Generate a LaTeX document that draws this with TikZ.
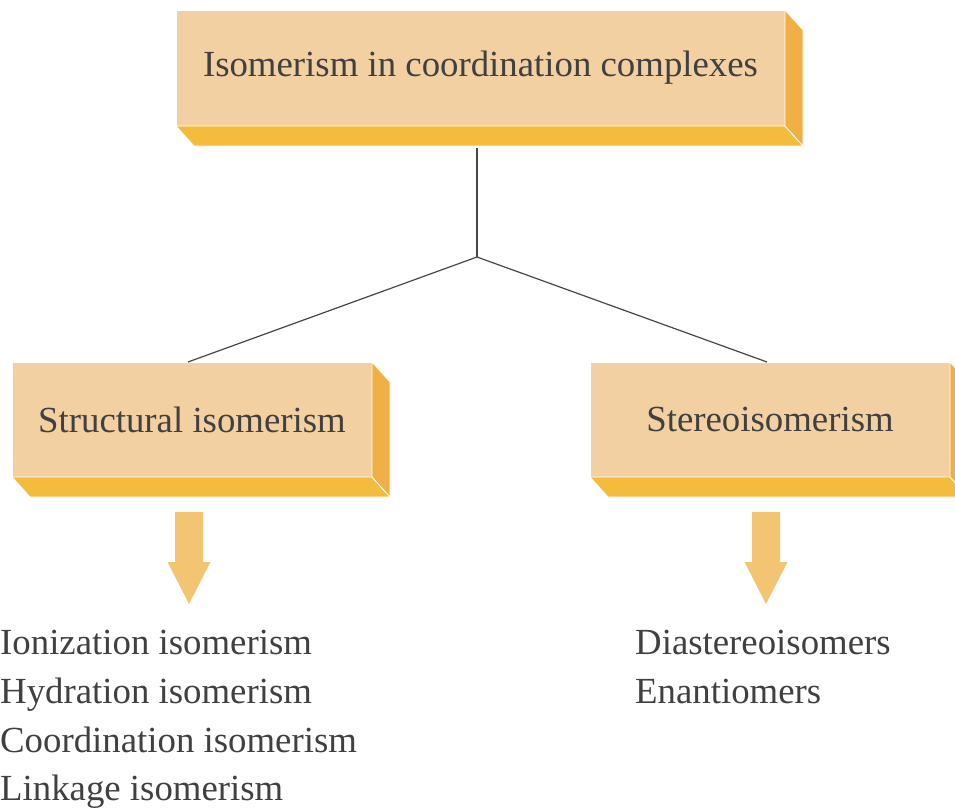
\documentclass[tikz,border=0pt]{standalone}
\usepackage{fontspec}
\setmainfont{Liberation Serif}
\usetikzlibrary{calc}
\definecolor{facefront}{RGB}{242,208,162}
\definecolor{facebottom}{RGB}{244,188,60}
\definecolor{faceside}{RGB}{240,176,70}
\definecolor{arrowfill}{RGB}{243,197,114}
\definecolor{textgrey}{RGB}{64,64,64}
\tikzset{isobox/.style={draw=white, line width=1pt, fill=facefront, outer sep=0pt, inner sep=0pt, text=textgrey, font=\fontsize{36.8}{44}\selectfont}}
\tikzset{bottomface/.style={fill=facebottom, draw=white, line width=0.8pt}}
\tikzset{sideface/.style={fill=faceside, draw=white, line width=0.8pt}}
\tikzset{link/.style={draw={rgb,255:red,70;green,70;blue,70}, line width=1.2pt}}
\tikzset{listitem/.style={anchor=base west, inner sep=0pt, text=textgrey, font=\fontsize{36.8}{44}\selectfont}}

\begin{document}
\begin{tikzpicture}[x=1pt, y=-1pt]

\useasboundingbox (0,0) rectangle (955,809);
\clip (0,0) rectangle (955,809);

% boxes
\node[isobox, minimum width=609pt, minimum height=116pt] (top) at (480.5, 68) {Isomerism in coordination complexes};
\node[isobox, minimum width=360pt, minimum height=115pt] (struct) at (192, 419.5) {Structural isomerism};
\node[isobox, minimum width=360pt, minimum height=115pt] (stereo) at (770, 419.5) {Stereoisomerism};

\foreach \b in {top, struct, stereo} {
  \path[bottomface] (\b.south west) -- (\b.south east) -- ++(18,20) -- ($(\b.south west)+(18,-20pt)$) -- cycle;
  \path[sideface] (\b.north east) -- ++(18,20) -- ($(\b.south east)+(18,-20pt)$) -- (\b.south east) -- cycle;
}

% tree lines
\coordinate (fork) at (477, 257);
\draw[link] ([xshift=-3.5pt]top.south) ++(0,22) -- (fork);
\draw[link] (fork) -- ([xshift=-4pt]struct.north);
\draw[link] (fork) -- ([xshift=-3pt]stereo.north);

% down arrows
\foreach \x in {189, 766} {
  \fill[arrowfill] ({\x-14},512) -- ({\x+14},512) -- ({\x+14},562) -- ({\x+21.5},562)
    -- (\x,604) -- ({\x-21.5},562) -- ({\x-14},562) -- cycle;
}

% lists
\node[listitem] (ion) at (0, 654) {Ionization isomerism};
\node[listitem] (hyd) at (0, 703) {Hydration isomerism};
\node[listitem] (coord) at (0, 752) {Coordination isomerism};
\node[listitem] (linkage) at (0, 800) {Linkage isomerism};

\node[listitem] (dia) at (635, 654) {Diastereoisomers};
\node[listitem] (enan) at (635, 703) {Enantiomers};

\end{tikzpicture}
\end{document}
